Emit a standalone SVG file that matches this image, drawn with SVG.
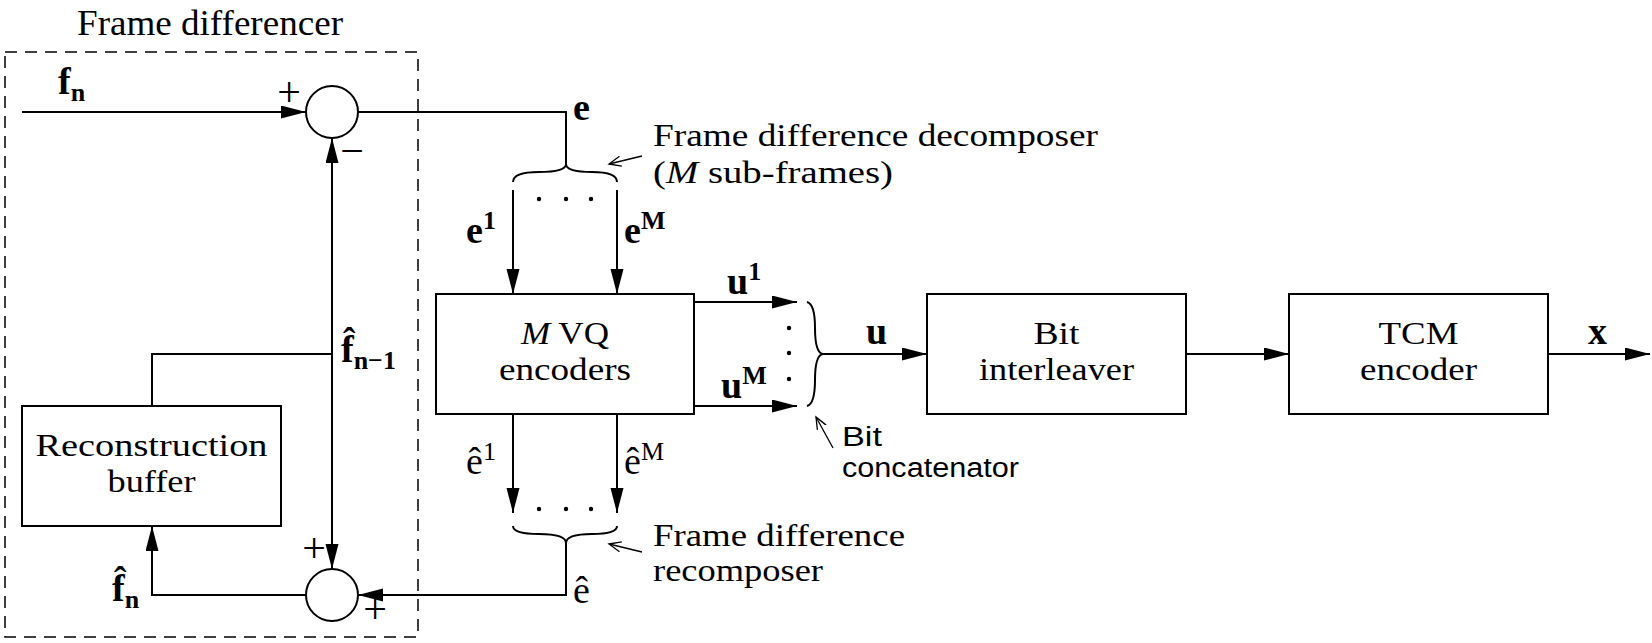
<svg xmlns="http://www.w3.org/2000/svg" width="1652" height="643" viewBox="0 0 1652 643">
<style>
.ln{fill:none;stroke:#000;stroke-width:2}
.bx{fill:#fff;stroke:#000;stroke-width:2}
.t{font-family:"Liberation Serif",serif;font-size:35px;fill:#000}
.t2{font-family:"Liberation Serif",serif;font-size:32px;fill:#000}
.t3{font-family:"Liberation Serif",serif;font-size:31px;fill:#000}
.m{font-family:"Liberation Serif",serif;font-size:38px;fill:#000}
.b{font-family:"Liberation Serif",serif;font-size:38px;font-weight:bold;fill:#000}
.pm{font-family:"Liberation Serif",serif;font-size:42px;fill:#000}
.s{font-family:"Liberation Sans",sans-serif;font-size:27px;fill:#000}
.sup{font-size:26px}
.dot{fill:#000}
</style>
<defs>
<marker id="ar" markerUnits="userSpaceOnUse" markerWidth="26" markerHeight="14" refX="25" refY="6.5" orient="auto"><path d="M0,0 L25,6.5 L0,13 z" fill="#000"/></marker>
<marker id="op" markerUnits="userSpaceOnUse" markerWidth="14" markerHeight="14" refX="12" refY="6" orient="auto"><path d="M0,1 L12,6 L0,11" fill="none" stroke="#000" stroke-width="1.3"/></marker>
</defs>

<g id="frame-differencer">
<rect x="5" y="52" width="413" height="585" fill="none" stroke="#000" stroke-width="1.5" stroke-dasharray="12 8"/>
<text class="t" x="210" y="35" text-anchor="middle" textLength="266" lengthAdjust="spacingAndGlyphs">Frame differencer</text>
</g>

<g id="subtractor">
<circle cx="332" cy="112" r="26" class="bx"/>
<text class="pm" x="289" y="106" text-anchor="middle">+</text>
<text class="pm" x="352" y="165" text-anchor="middle">−</text>
</g>

<g id="adder">
<circle cx="332" cy="595" r="26" class="bx"/>
<text class="pm" x="314" y="562" text-anchor="middle">+</text>
<text class="pm" x="375" y="623" text-anchor="middle">+</text>
</g>

<g id="reconstruction-buffer">
<rect x="22" y="406" width="259" height="120" class="bx"/>
<text class="t2" text-anchor="middle"><tspan x="151.5" y="456" textLength="232" lengthAdjust="spacingAndGlyphs">Reconstruction</tspan><tspan x="151.5" y="492" textLength="88" lengthAdjust="spacingAndGlyphs">buffer</tspan></text>
</g>

<g id="vq-encoders">
<rect x="436" y="294" width="258" height="120" class="bx"/>
<text class="t2" text-anchor="middle"><tspan x="565" y="344" textLength="88" lengthAdjust="spacingAndGlyphs"><tspan font-style="italic">M</tspan> VQ</tspan><tspan x="565" y="380" textLength="132" lengthAdjust="spacingAndGlyphs">encoders</tspan></text>
</g>

<g id="bit-interleaver">
<rect x="927" y="294" width="259" height="120" class="bx"/>
<text class="t2" text-anchor="middle"><tspan x="1056.5" y="344" textLength="46" lengthAdjust="spacingAndGlyphs">Bit</tspan><tspan x="1056.5" y="380" textLength="155" lengthAdjust="spacingAndGlyphs">interleaver</tspan></text>
</g>

<g id="tcm-encoder">
<rect x="1289" y="294" width="259" height="120" class="bx"/>
<text class="t2" text-anchor="middle"><tspan x="1418.5" y="344" textLength="80" lengthAdjust="spacingAndGlyphs">TCM</tspan><tspan x="1418.5" y="380" textLength="117" lengthAdjust="spacingAndGlyphs">encoder</tspan></text>
</g>

<g id="decomposer">
<path class="ln" d="M513,182 Q513,172 539,172 Q566,172 566,164 Q566,172 592,172 Q617,172 617,182"/>
<circle class="dot" cx="539" cy="199" r="2.2"/><circle class="dot" cx="566" cy="199" r="2.2"/><circle class="dot" cx="591" cy="199" r="2.2"/>
<line x1="642" y1="156" x2="609" y2="164" stroke="#000" stroke-width="1.3" marker-end="url(#op)"/>
<text class="t2"><tspan x="653" y="146" textLength="445" lengthAdjust="spacingAndGlyphs">Frame difference decomposer</tspan><tspan x="653" y="183" textLength="240" lengthAdjust="spacingAndGlyphs">(<tspan font-style="italic">M</tspan> sub-frames)</tspan></text>
</g>

<g id="recomposer">
<path class="ln" d="M513,526 Q513,534 539,534 Q566,534 566,543 Q566,534 592,534 Q617,534 617,526"/>
<circle class="dot" cx="539" cy="509" r="2.2"/><circle class="dot" cx="566" cy="509" r="2.2"/><circle class="dot" cx="591" cy="509" r="2.2"/>
<line x1="642" y1="552" x2="609" y2="544" stroke="#000" stroke-width="1.3" marker-end="url(#op)"/>
<text class="t3"><tspan x="653" y="546" textLength="252" lengthAdjust="spacingAndGlyphs">Frame difference</tspan><tspan x="653" y="581" textLength="170" lengthAdjust="spacingAndGlyphs">recomposer</tspan></text>
</g>

<g id="concatenator">
<path class="ln" d="M807,302 Q815,304 815,328 Q815,353 823,354 Q815,355 815,380 Q815,404 807,406"/>
<circle class="dot" cx="789" cy="328" r="2.2"/><circle class="dot" cx="789" cy="353" r="2.2"/><circle class="dot" cx="789" cy="379" r="2.2"/>
<line x1="833" y1="448" x2="816" y2="417" stroke="#000" stroke-width="1.3" marker-end="url(#op)"/>
<text class="s"><tspan x="842" y="446" textLength="40" lengthAdjust="spacingAndGlyphs">Bit</tspan><tspan x="842" y="477" textLength="177" lengthAdjust="spacingAndGlyphs">concatenator</tspan></text>
</g>

<g id="connectors">
<line class="ln" x1="22" y1="112" x2="306" y2="112" marker-end="url(#ar)"/>
<polyline class="ln" points="358,112 566,112 566,164"/>
<line class="ln" x1="513" y1="190" x2="513" y2="294" marker-end="url(#ar)"/>
<line class="ln" x1="617" y1="190" x2="617" y2="294" marker-end="url(#ar)"/>
<line class="ln" x1="694" y1="302" x2="797" y2="302" marker-end="url(#ar)"/>
<line class="ln" x1="694" y1="406" x2="797" y2="406" marker-end="url(#ar)"/>
<line class="ln" x1="823" y1="354" x2="927" y2="354" marker-end="url(#ar)"/>
<line class="ln" x1="1186" y1="354" x2="1289" y2="354" marker-end="url(#ar)"/>
<line class="ln" x1="1548" y1="354" x2="1650" y2="354" marker-end="url(#ar)"/>
<line class="ln" x1="513" y1="414" x2="513" y2="513" marker-end="url(#ar)"/>
<line class="ln" x1="617" y1="414" x2="617" y2="513" marker-end="url(#ar)"/>
<polyline class="ln" points="566,543 566,595 358,595" marker-end="url(#ar)"/>
<line class="ln" x1="332" y1="354" x2="332" y2="138" marker-end="url(#ar)"/>
<line class="ln" x1="332" y1="354" x2="332" y2="569" marker-end="url(#ar)"/>
<polyline class="ln" points="332,354 152,354 152,406"/>
<polyline class="ln" points="306,595 152,595 152,526" marker-end="url(#ar)"/>
</g>

<g id="labels">
<text class="b" x="58" y="94">f<tspan class="sup" dy="7">n</tspan></text>
<text class="b" x="573" y="120">e</text>
<text class="b" x="466" y="243">e<tspan class="sup" dy="-14">1</tspan></text>
<text class="b" x="624" y="243">e<tspan class="sup" dy="-14">M</tspan></text>
<text class="b" x="727" y="294">u<tspan class="sup" dy="-14">1</tspan></text>
<text class="b" x="721" y="398">u<tspan class="sup" dy="-14">M</tspan></text>
<text class="b" x="866" y="344">u</text>
<text class="b" x="1588" y="344">x</text>
<text class="m" x="466" y="474">ê<tspan class="sup" dy="-14">1</tspan></text>
<text class="m" x="624" y="474">ê<tspan class="sup" dy="-14">M</tspan></text>
<text class="m" x="573" y="603">ê</text>
<text class="b" x="341" y="362">f̂<tspan class="sup" dy="7">n−1</tspan></text>
<text class="b" x="112" y="601">f̂<tspan class="sup" dy="7">n</tspan></text>
</g>
</svg>
